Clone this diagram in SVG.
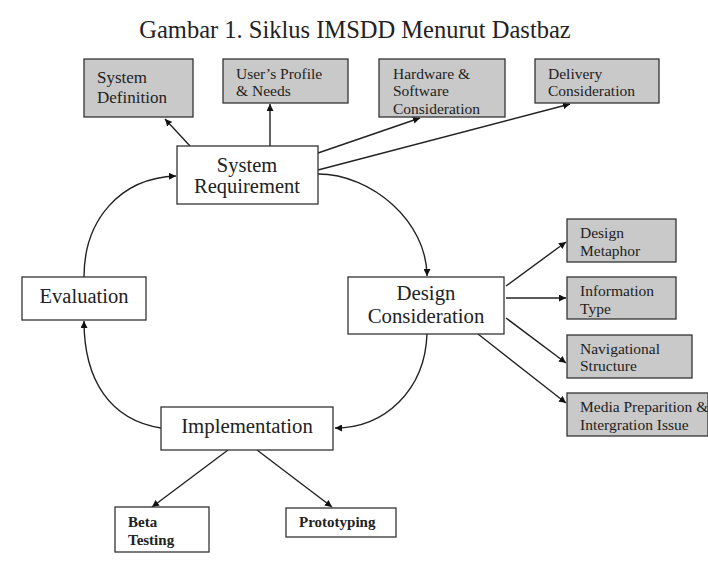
<svg xmlns="http://www.w3.org/2000/svg" width="708" height="571" viewBox="0 0 708 571" font-family="'Liberation Serif', 'DejaVu Serif', serif">
<style>
.box{fill:#fff;stroke:#333;stroke-width:1.3}
.gbox{fill:#c9c9c9;stroke:#333;stroke-width:1.3}
text{fill:#222}
.s{font-size:15.5px}
.m{font-size:20.5px}
.l{font-size:20.8px}
.c{stroke:#222;stroke-width:1.4;fill:none;marker-end:url(#ah)}
</style>
<defs>
<marker id="ah" viewBox="0 0 10 10" refX="10" refY="5" markerWidth="7" markerHeight="7" orient="auto" markerUnits="userSpaceOnUse">
<path d="M0,0 L10,5 L0,10 z" fill="#111"/>
</marker>
<clipPath id="cpHw"><rect x="379" y="59" width="126" height="57"/></clipPath>
<clipPath id="cpDm"><rect x="567" y="219" width="109" height="42"/></clipPath>
<clipPath id="cpIt"><rect x="567" y="277" width="109" height="41"/></clipPath>
<clipPath id="cpBt"><rect x="115" y="507" width="94" height="44"/></clipPath>
</defs>
<rect width="708" height="571" fill="#fff"/>
<text x="355" y="38" text-anchor="middle" font-size="24.5">Gambar 1. Siklus IMSDD Menurut Dastbaz</text>

<g id="connectors">
<path class="c" d="M190,146 L165,119"/>
<path class="c" d="M270,146 L270,104"/>
<path class="c" d="M318,153 L420,118"/>
<path class="c" d="M318,170 L570,104"/>
<path class="c" d="M318,174 C372,174 427,222 427,276"/>
<path class="c" d="M427,334 C425,390 385,428 335,428"/>
<path class="c" d="M161,428 C110,420 84,380 84,321"/>
<path class="c" d="M84,277 C84,220 120,178 176,176"/>
<path class="c" d="M506,286 L566,242"/>
<path class="c" d="M506,298 L566,298"/>
<path class="c" d="M506,318 L566,363"/>
<path class="c" d="M478,334 L566,403"/>
<path class="c" d="M228,450 L152,507"/>
<path class="c" d="M257,450 L332,507"/>
</g>

<g id="system-definition">
<rect class="gbox" x="84" y="59" width="109" height="58"/>
<text x="97" y="83" font-size="17">System</text>
<text x="97" y="103" font-size="17">Definition</text>
</g>
<g id="users-profile">
<rect class="gbox" x="223" y="59" width="125" height="44"/>
<text class="s" x="236" y="79">User’s Profile</text>
<text class="s" x="236" y="96">&amp; Needs</text>
</g>
<g id="hardware-software">
<rect class="gbox" x="379" y="59" width="126" height="58"/>
<g clip-path="url(#cpHw)">
<text class="s" x="393" y="79">Hardware &amp;</text>
<text class="s" x="393" y="96">Software</text>
<text class="s" x="393" y="114">Consideration</text>
</g>
</g>
<g id="delivery-consideration">
<rect class="gbox" x="535" y="59" width="124" height="44"/>
<text class="s" x="548" y="79">Delivery</text>
<text class="s" x="548" y="96">Consideration</text>
</g>

<g id="system-requirement">
<rect class="box" x="177" y="146" width="141" height="58"/>
<text class="m" x="247" y="172" text-anchor="middle">System</text>
<text class="m" x="247" y="193" text-anchor="middle">Requirement</text>
</g>

<g id="evaluation">
<rect class="box" x="22" y="277" width="124" height="43"/>
<text class="m" x="84" y="303" text-anchor="middle">Evaluation</text>
</g>

<g id="design-consideration">
<rect class="box" x="348" y="277" width="156" height="57"/>
<text class="l" x="426" y="300" text-anchor="middle">Design</text>
<text class="l" x="426" y="323" text-anchor="middle">Consideration</text>
</g>

<g id="design-metaphor">
<rect class="gbox" x="567" y="219" width="109" height="43"/>
<g clip-path="url(#cpDm)">
<text class="s" x="580" y="238">Design</text>
<text class="s" x="580" y="256">Metaphor</text>
</g>
</g>
<g id="information-type">
<rect class="gbox" x="567" y="277" width="109" height="42"/>
<g clip-path="url(#cpIt)">
<text class="s" x="580" y="296">Information</text>
<text class="s" x="580" y="314">Type</text>
</g>
</g>
<g id="navigational-structure">
<rect class="gbox" x="567" y="335" width="125" height="43"/>
<text class="s" x="580" y="354">Navigational</text>
<text class="s" x="580" y="371">Structure</text>
</g>
<g id="media-preparation">
<rect class="gbox" x="567" y="393" width="141" height="43"/>
<text class="s" x="580" y="412">Media Preparition &amp;</text>
<text class="s" x="580" y="430">Intergration Issue</text>
</g>

<g id="implementation">
<rect class="box" x="161" y="407" width="172" height="43"/>
<text class="l" x="247" y="433" text-anchor="middle">Implementation</text>
</g>

<g id="beta-testing">
<rect class="box" x="115" y="507" width="94" height="45"/>
<g clip-path="url(#cpBt)">
<text x="128" y="527" font-size="15" font-weight="bold">Beta</text>
<text x="128" y="545" font-size="15" font-weight="bold">Testing</text>
</g>
</g>
<g id="prototyping">
<rect class="box" x="286" y="508" width="110" height="29"/>
<text x="299" y="527" font-size="15" font-weight="bold">Prototyping</text>
</g>
</svg>
